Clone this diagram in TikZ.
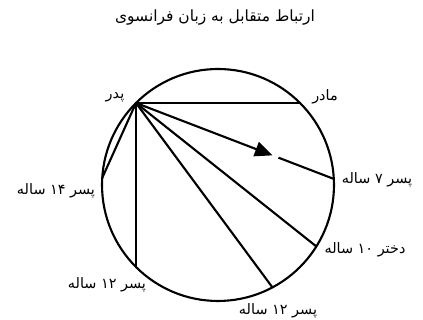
\documentclass[tikz,border=0pt]{standalone}
\usepackage{fontspec}
\usetikzlibrary{arrows.meta,calc,positioning}
\newfontfamily\fafont[Script=Arabic]{DejaVu Sans}
\TeXXeTstate=1

\begin{document}
\begin{tikzpicture}[
    x=0.02cm, y=-0.02cm,
    ring/.style={draw, line width=1.2pt},
    link/.style={draw, line width=1.2pt},
    lbl/.style={font=\fafont\fontsize{8.2}{10}\selectfont, inner sep=1pt},
    ttl/.style={font=\fafont\fontsize{8.8}{10}\selectfont, inner sep=1pt}
]
\useasboundingbox (0,0) rectangle (423,320);

% circle
\coordinate (c) at (218,185);
\draw[ring] (c) circle [radius=2.32cm];

% points on the circle
\coordinate (father) at ($(c)+(225:116)$);
\coordinate (mother) at ($(c)+(315:116)$);
\coordinate (son7)   at ($(c)+(357:116)$);
\coordinate (girl10) at ($(c)+(32:116)$);
\coordinate (son12b) at ($(c)+(62:116)$);
\coordinate (son12a) at ($(c)+(135:116)$);
\coordinate (son14)  at ($(c)+(183.5:116)$);
\coordinate (tip)  at ($(father)!0.69!(son7)$);
\coordinate (tail) at ($(father)!0.72!(son7)$);

% labels
\node[ttl] (title) at (215,18) {\beginR ارتباط متقابل به زبان فرانسوی\endR};
\node[lbl] (lfather) at (115,97) {\beginR پدر\endR};
\node[lbl] (lmother) at (325,97) {\beginR مادر\endR};
\node[lbl] (lson7) at (377,180) {\beginR پسر \beginL۷\endL{} ساله\endR};
\node[lbl] (lgirl10) at (365,250) {\beginR دختر \beginL۱۰\endL{} ساله\endR};
\node[lbl] (lson12b) at (278,311) {\beginR پسر \beginL۱۲\endL{} ساله\endR};
\node[lbl] (lson12a) at (107,285) {\beginR پسر \beginL۱۲\endL{} ساله\endR};
\node[lbl] (lson14) at (56,191) {\beginR پسر \beginL۱۴\endL{} ساله\endR};

% links
\path[link] (father) -- (mother);
\path[link, -{Triangle[length=10pt,width=8.5pt]}] (father) -- (tip);
\path[link] (tail) -- (son7);
\path[link] (father) -- (girl10);
\path[link] (father) -- (son12b);
\path[link] (father) -- (son12a);
\path[link] (father) -- (son14);
\end{tikzpicture}
\end{document}
